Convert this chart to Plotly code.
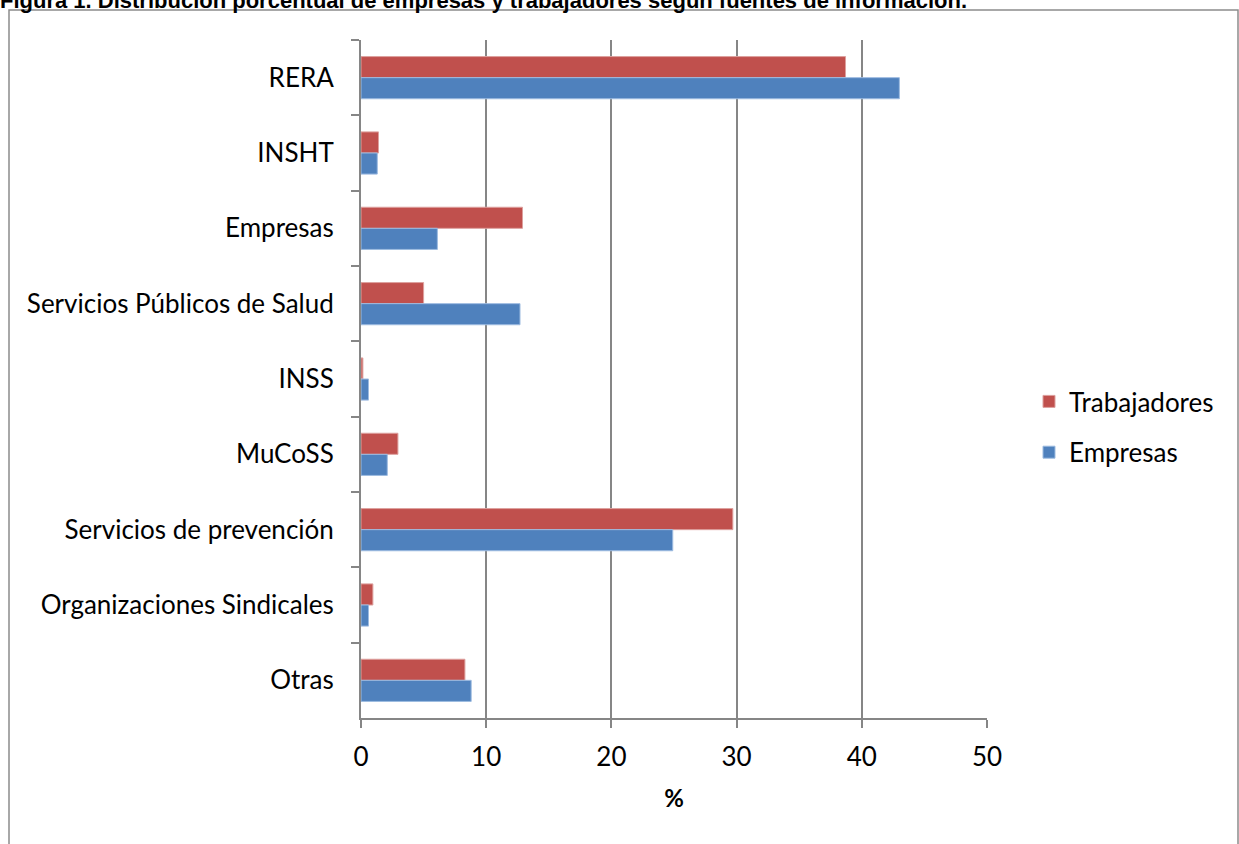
import plotly.graph_objects as go

categories = ["RERA", "INSHT", "Empresas", "Servicios Públicos de Salud", "INSS",
              "MuCoSS", "Servicios de prevención", "Organizaciones Sindicales", "Otras"]
trabajadores = [38.7, 1.4, 12.9, 5.0, 0.15, 2.95, 29.7, 0.95, 8.3]
empresas = [43.0, 1.3, 6.1, 12.7, 0.6, 2.1, 24.9, 0.6, 8.8]
x_ticks = [0, 10, 20, 30, 40, 50]
title_text = "Figura 1. Distribución porcentual de empresas y trabajadores según fuentes de información."

W, H = 1239, 844
L, R_ = 361, 987
T, B = 40, 718

def px_x(p):
    return (p - L) / (R_ - L)

def px_y(p):
    return (B - p) / (B - T)

FONT = "Lato"
FS = 26

fig = go.Figure()
fig.add_trace(go.Bar(y=categories, x=trabajadores, orientation="h", name="Trabajadores",
                     marker=dict(color="#C0504D", line=dict(color="#DDA09E", width=1)),
                     legendgroup="t"))
fig.add_trace(go.Bar(y=categories, x=empresas, orientation="h", name="Empresas",
                     marker=dict(color="#4F81BD", line=dict(color="#9DBBE0", width=1)),
                     legendgroup="e"))

fig.update_layout(
    width=W, height=H,
    margin=dict(l=L, r=W - R_, t=T, b=H - B, pad=0),
    paper_bgcolor="white", plot_bgcolor="white",
    barmode="group", bargap=0.44, bargroupgap=0,
    font=dict(family=FONT, size=FS, color="black"),
    title=dict(text="<b>" + title_text + "</b>", xref="container", yref="container",
               x=0.0, xanchor="left", y=1.0, yanchor="middle",
               font=dict(family="Liberation Sans", size=22, color="black")),
    legend=dict(x=px_x(1029), y=px_y(427), xanchor="left", yanchor="middle",
                traceorder="grouped", tracegroupgap=14, font=dict(size=FS),
                bgcolor="rgba(0,0,0,0)"),
    xaxis=dict(range=[0, 50], tickvals=x_ticks, showgrid=True, gridcolor="#868686", gridwidth=1.5,
               showline=True, linecolor="#868686", linewidth=2, ticks="outside", ticklen=8,
               tickcolor="#868686", tickwidth=1.5, zeroline=False, ticklabelstandoff=7,
               title=dict(text="<b>%</b>", font=dict(family=FONT, size=24), standoff=19)),
    yaxis=dict(autorange="reversed", showline=True, linecolor="#868686", linewidth=2,
               ticks="outside", ticklen=8, tickcolor="#868686", tickwidth=1.5,
               tickson="boundaries", showgrid=False, ticklabelstandoff=20),
    shapes=[dict(type="rect", xref="paper", yref="paper",
                 x0=px_x(9), x1=px_x(1238), y0=px_y(860), y1=px_y(10),
                 line=dict(color="#8c8c8c", width=1.5), fillcolor="rgba(0,0,0,0)", layer="below")],
)

fig.write_html("out.html", config={"displayModeBar": False},
               post_script="document.body.style.margin='0';")
